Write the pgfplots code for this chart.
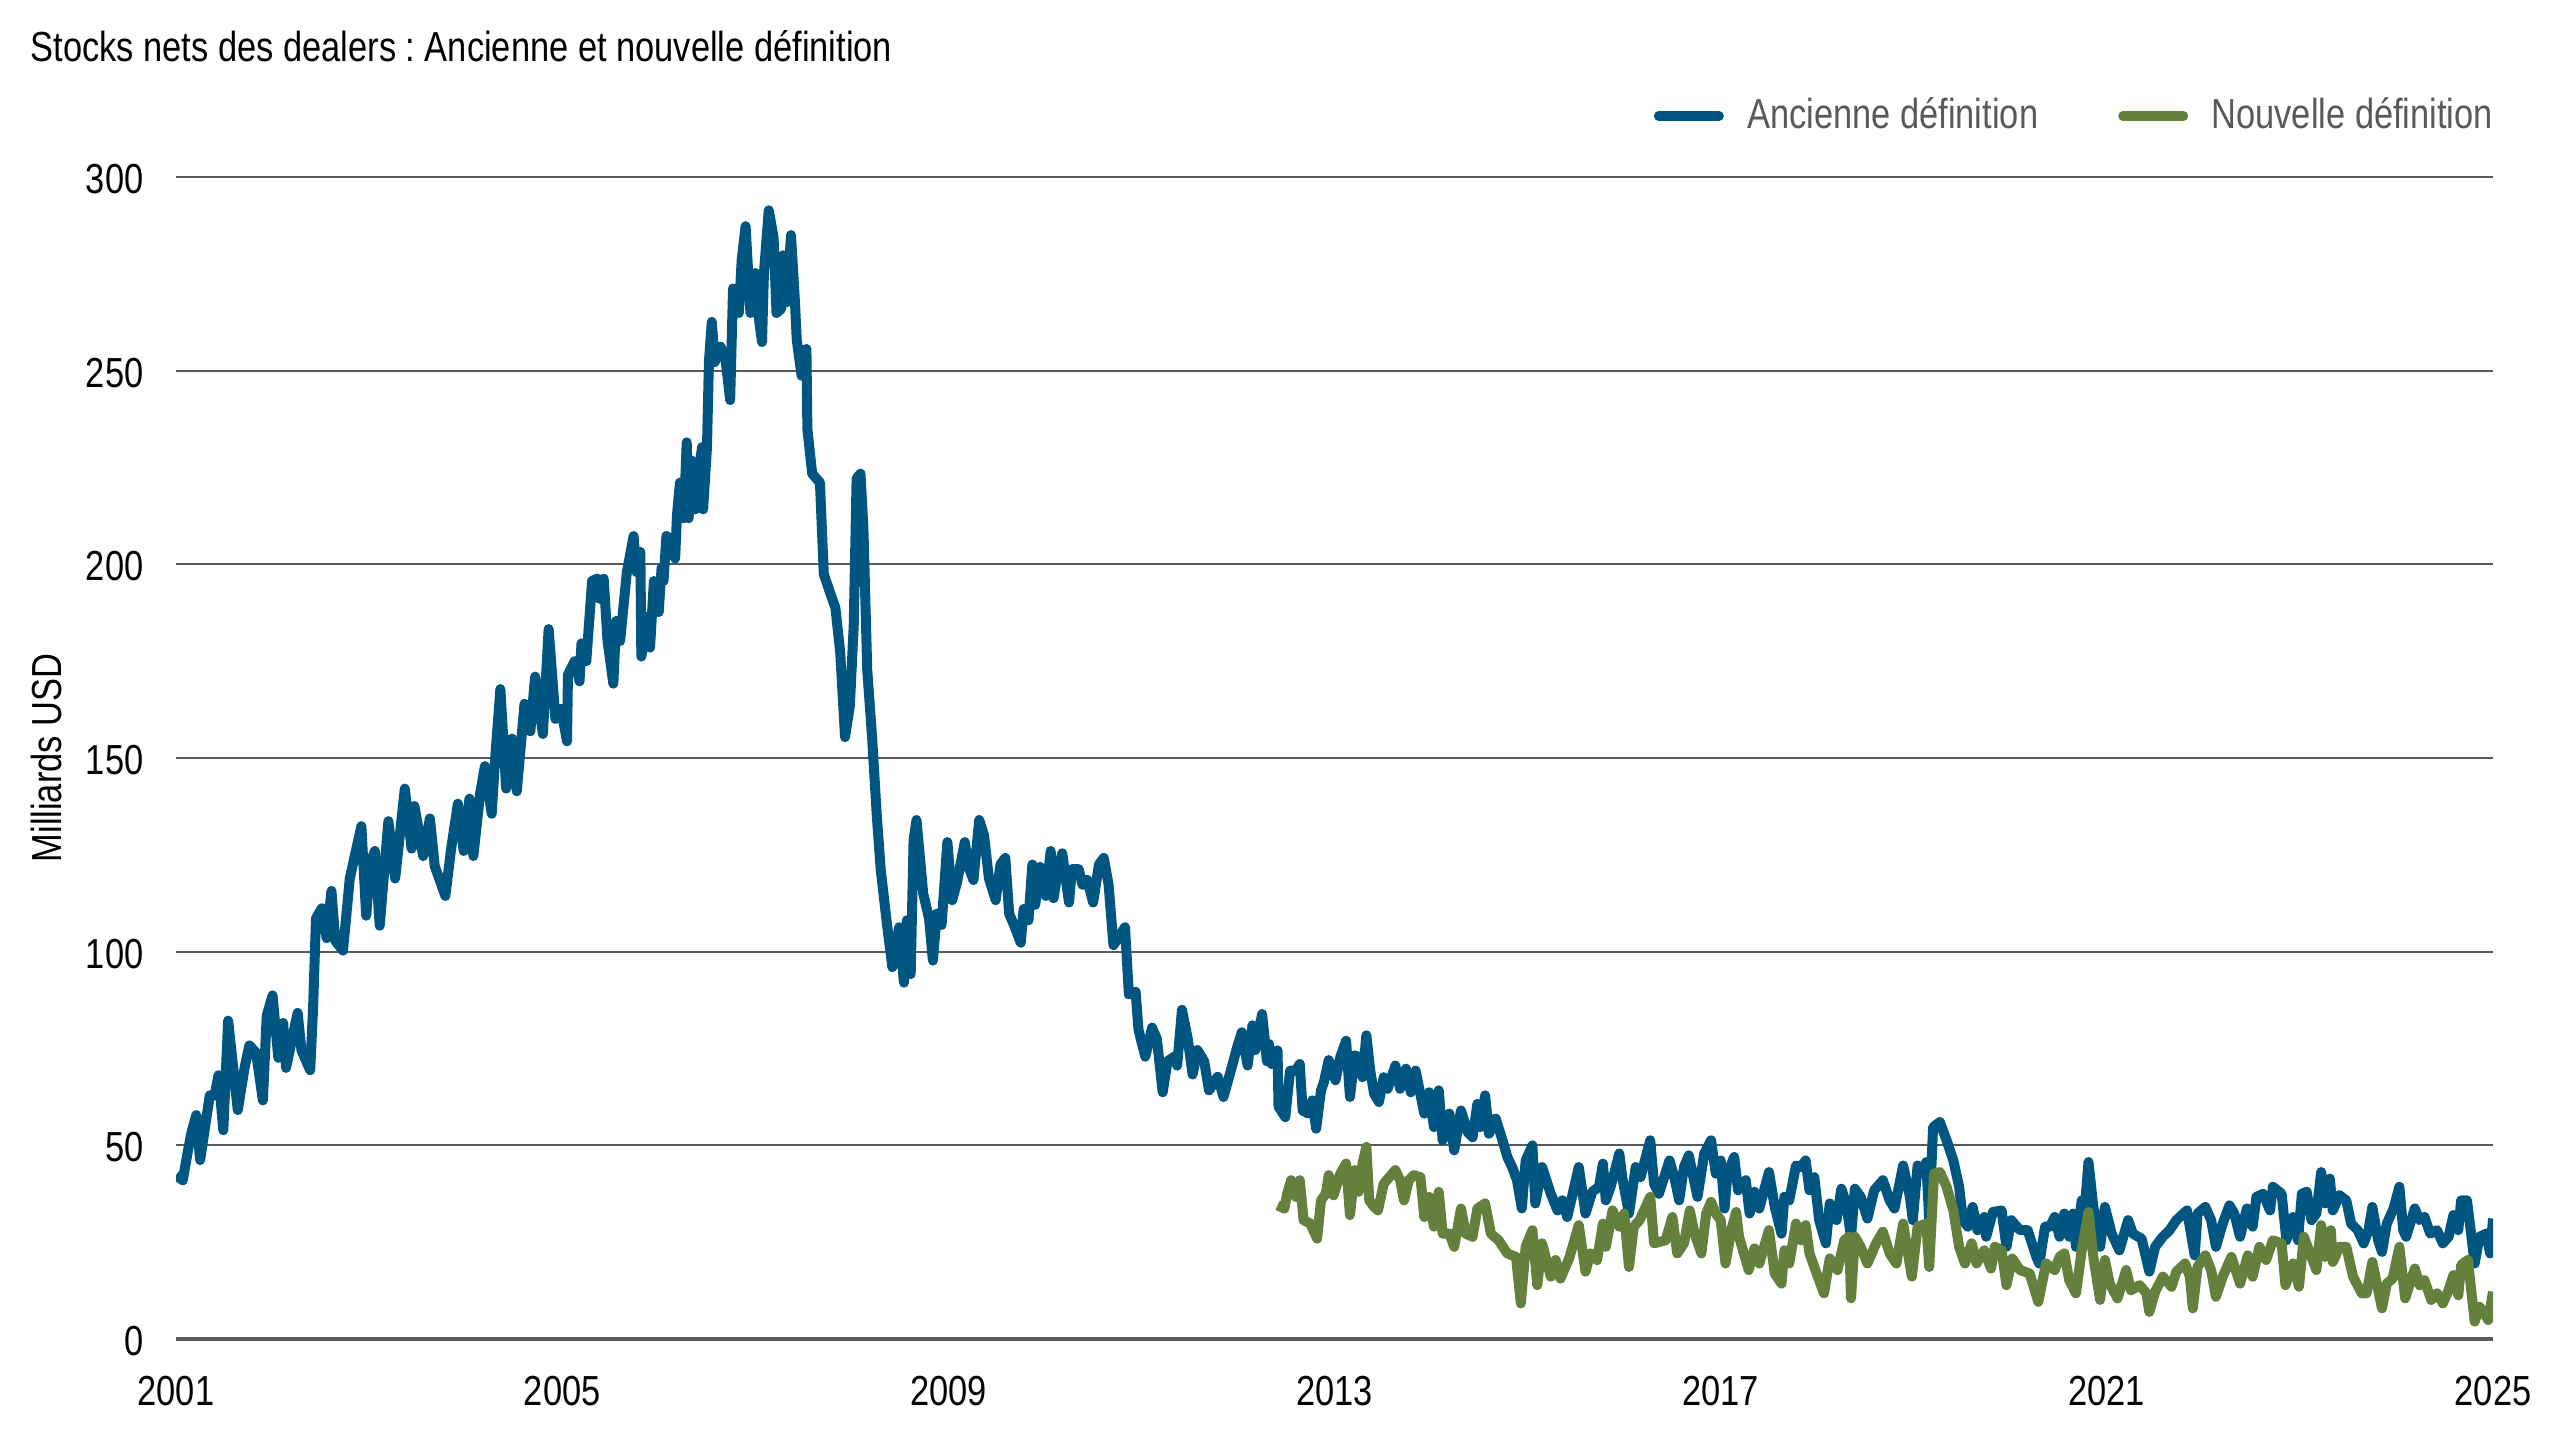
\documentclass[border=0pt]{standalone}
\usepackage{pgfplots}
\pgfplotsset{compat=1.18}
\usepackage{fontspec}
\setmainfont[FakeStretch=0.82]{Liberation Sans}
\frenchspacing
\definecolor{oldblue}{RGB}{0,86,128}
\definecolor{newgreen}{RGB}{99,128,61}
\definecolor{gridgray}{RGB}{88,89,91}
\begin{document}
\begin{tikzpicture}
\path[use as bounding box] (0pt,0pt) rectangle (768pt,432pt);
\node[anchor=west, inner sep=0pt, font=\fontsize{12.6}{15}\selectfont] at (9pt,418.2pt) {Stocks nets des dealers : Ancienne et nouvelle définition};
\node[rotate=90, inner sep=0pt, font=\fontsize{12.6}{15}\selectfont] at (13.8pt,204.6pt) {Milliards USD};
\begin{axis}[
  at={(52.8pt,30.3pt)}, anchor=south west,
  scale only axis, width=695.1pt, height=348.6pt,
  xmin=2001, xmax=2025, ymin=0, ymax=300,
  xtick={2001,2005,2009,2013,2017,2021,2025},
  ytick={0,50,100,150,200,250,300},
  axis lines=left,
  axis line style={-},
  y axis line style={draw=none},
  x axis line style={line width=1.2pt, color=gridgray},
  tick style={draw=none},
  major tick length=0pt,
  ymajorgrids,
  grid style={line width=0.6pt, color=gridgray},
  /pgf/number format/assume math mode=true,
  /pgf/number format/1000 sep={},
  ticklabel style={font=\fontsize{12.6}{15}\selectfont},
  xticklabel style={anchor=north, inner sep=0pt, yshift=-10.8pt},
  yticklabel style={anchor=east, inner sep=0pt, xshift=-9.6pt, yshift=-0.6pt},
  legend columns=2,
  legend style={at={(1,1)}, anchor=east, yshift=18.3pt, draw=none, fill=none,
    inner sep=0pt, outer sep=0pt,
    font=\fontsize{12.6}{15}\selectfont, text=gridgray,
    nodes={inner sep=0pt},
    /tikz/every odd column/.append style={column sep=7pt},
    /tikz/every even column/.append style={column sep=24pt}},
  legend image code/.code={\draw[line width=2.8pt, line cap=round] (1.4pt,0pt) -- (19.6pt,0pt);},
]
\addplot[oldblue, line width=3pt, line join=round] coordinates {
(2001.00,42.3)(2001.07,41.0)(2001.12,48.1)(2001.16,53.3)(2001.21,57.8)(2001.25,46.2)
(2001.30,54.6)(2001.35,62.9)(2001.40,62.9)(2001.44,68.1)(2001.49,53.9)(2001.54,82.2)
(2001.64,59.1)(2001.71,70.0)(2001.76,75.8)(2001.83,73.9)(2001.90,61.6)(2001.94,83.5)
(2002.00,88.7)(2002.06,72.6)(2002.11,81.6)(2002.14,70.0)(2002.26,84.2)(2002.30,74.5)
(2002.39,69.4)(2002.42,85.5)(2002.45,108.6)(2002.51,111.2)(2002.56,103.5)(2002.61,115.7)
(2002.65,102.8)(2002.73,100.3)(2002.80,118.9)(2002.92,132.4)(2002.97,109.3)(2003.01,122.8)
(2003.06,126.0)(2003.11,106.7)(2003.20,133.7)(2003.27,118.9)(2003.37,142.1)(2003.44,126.6)
(2003.47,137.6)(2003.56,124.7)(2003.63,134.4)(2003.68,122.1)(2003.79,114.4)(2003.85,126.6)
(2003.92,138.2)(2003.98,126.0)(2004.04,139.5)(2004.08,124.7)(2004.15,140.8)(2004.20,147.9)
(2004.27,135.6)(2004.30,147.9)(2004.36,167.8)(2004.42,142.1)(2004.48,155.0)(2004.53,141.4)
(2004.61,164.0)(2004.67,156.9)(2004.72,171.0)(2004.80,156.2)(2004.86,183.3)(2004.93,160.1)
(2004.99,162.7)(2005.05,154.3)(2005.06,171.5)(2005.13,175.0)(2005.18,169.8)(2005.20,179.6)
(2005.25,175.0)(2005.31,195.7)(2005.36,196.3)(2005.39,191.1)(2005.43,196.3)(2005.47,180.2)
(2005.53,169.2)(2005.56,185.4)(2005.60,180.2)(2005.67,198.0)(2005.74,207.3)(2005.77,198.0)
(2005.81,203.2)(2005.82,176.2)(2005.88,186.5)(2005.91,178.5)(2005.95,195.7)(2006.00,187.7)
(2006.03,199.2)(2006.05,195.7)(2006.08,207.3)(2006.14,206.1)(2006.17,201.5)(2006.19,213.0)
(2006.22,221.1)(2006.26,211.9)(2006.29,231.5)(2006.31,211.9)(2006.34,226.8)(2006.38,214.2)
(2006.41,223.4)(2006.45,230.3)(2006.46,214.2)(2006.50,230.3)(2006.52,252.2)(2006.55,262.6)
(2006.58,252.2)(2006.64,256.2)(2006.69,253.3)(2006.74,242.4)(2006.77,271.2)(2006.83,264.9)
(2006.86,278.7)(2006.90,287.3)(2006.95,264.9)(2007.00,275.2)(2007.03,264.9)(2007.07,257.4)
(2007.09,275.2)(2007.14,291.4)(2007.19,284.4)(2007.22,264.9)(2007.27,266.0)(2007.29,279.8)
(2007.33,267.7)(2007.37,285.0)(2007.41,268.3)(2007.43,257.9)(2007.48,248.7)(2007.53,255.6)
(2007.54,234.9)(2007.59,223.4)(2007.67,221.1)(2007.71,197.5)(2007.78,192.3)(2007.83,188.8)
(2007.88,177.3)(2007.93,155.4)(2007.98,163.5)(2008.02,184.2)(2008.05,222.2)(2008.09,223.4)
(2008.12,209.6)(2008.16,172.7)(2008.21,155.4)(2008.26,134.7)(2008.30,121.1)(2008.36,108.0)
(2008.42,96.0)(2008.49,106.3)(2008.54,92.0)(2008.57,108.1)(2008.61,94.2)(2008.64,128.8)
(2008.67,134.0)(2008.74,115.0)(2008.80,108.6)(2008.84,97.7)(2008.88,109.8)(2008.93,106.9)
(2008.99,128.3)(2009.04,113.3)(2009.09,117.9)(2009.17,128.3)(2009.21,121.9)(2009.26,118.5)
(2009.32,134.0)(2009.37,130.0)(2009.42,119.0)(2009.49,113.3)(2009.54,122.5)(2009.59,124.2)
(2009.63,109.8)(2009.68,106.9)(2009.75,102.3)(2009.78,111.0)(2009.83,108.1)(2009.87,122.5)
(2009.90,112.1)(2009.95,121.9)(2010.01,114.4)(2010.06,126.0)(2010.09,113.8)(2010.13,120.2)
(2010.18,125.4)(2010.25,112.7)(2010.28,121.3)(2010.35,121.3)(2010.39,117.3)(2010.44,118.5)
(2010.50,112.7)(2010.56,122.5)(2010.61,124.2)(2010.66,117.3)(2010.71,101.7)(2010.77,104.0)
(2010.83,106.3)(2010.87,89.0)(2010.94,89.6)(2010.97,79.8)(2011.04,72.9)(2011.11,80.4)
(2011.16,77.5)(2011.22,63.7)(2011.27,71.7)(2011.34,72.9)(2011.37,70.6)(2011.42,85.0)
(2011.48,77.5)(2011.53,68.3)(2011.58,74.6)(2011.65,71.7)(2011.70,64.2)(2011.79,67.7)
(2011.85,62.5)(2011.94,70.6)(2011.99,75.2)(2012.04,79.2)(2012.10,70.6)(2012.15,81.0)
(2012.18,74.6)(2012.25,83.9)(2012.30,71.7)(2012.32,76.2)(2012.35,71.0)(2012.41,74.5)
(2012.42,60.0)(2012.49,57.3)(2012.54,69.3)(2012.60,69.3)(2012.64,71.0)(2012.67,59.0)
(2012.73,58.2)(2012.77,61.6)(2012.81,54.3)(2012.86,64.2)(2012.89,66.3)(2012.94,72.0)
(2013.01,66.8)(2013.06,72.8)(2013.12,77.0)(2013.16,62.5)(2013.21,73.2)(2013.25,72.8)
(2013.29,67.6)(2013.33,78.4)(2013.37,69.3)(2013.41,63.3)(2013.46,61.2)(2013.51,67.6)
(2013.55,64.6)(2013.63,70.6)(2013.68,64.6)(2013.74,69.8)(2013.79,63.7)(2013.84,69.3)
(2013.93,58.2)(2013.98,63.7)(2014.03,54.7)(2014.08,64.2)(2014.12,51.3)(2014.19,58.2)
(2014.24,48.7)(2014.31,59.0)(2014.38,53.4)(2014.43,52.1)(2014.48,60.7)(2014.51,54.7)
(2014.56,62.9)(2014.60,53.0)(2014.67,56.9)(2014.74,51.3)(2014.79,47.0)(2014.84,44.4)
(2014.89,41.0)(2014.94,33.7)(2014.98,46.1)(2015.05,50.0)(2015.08,35.0)(2015.15,44.4)
(2015.24,37.5)(2015.31,33.2)(2015.36,35.8)(2015.41,31.5)(2015.46,36.7)(2015.53,44.4)
(2015.60,32.4)(2015.67,38.0)(2015.74,39.3)(2015.78,45.3)(2015.81,35.8)(2015.86,39.3)
(2015.95,47.9)(2015.98,41.8)(2016.05,32.4)(2016.12,44.4)(2016.17,41.8)(2016.27,51.3)
(2016.31,40.1)(2016.36,37.5)(2016.47,46.1)(2016.52,41.8)(2016.57,35.8)(2016.62,44.4)
(2016.67,47.4)(2016.76,36.7)(2016.83,47.9)(2016.90,51.3)(2016.95,42.7)(2017.00,46.1)
(2017.04,33.7)(2017.07,42.7)(2017.14,47.0)(2017.18,38.4)(2017.26,41.0)(2017.30,32.4)
(2017.35,38.0)(2017.40,33.7)(2017.50,43.1)(2017.56,34.1)(2017.63,27.2)(2017.66,36.7)
(2017.71,35.8)(2017.78,44.8)(2017.83,44.4)(2017.88,46.1)(2017.92,38.4)(2017.97,41.8)
(2018.02,30.7)(2018.09,24.7)(2018.13,35.0)(2018.20,30.7)(2018.25,38.8)(2018.30,35.0)
(2018.35,26.4)(2018.39,38.8)(2018.45,36.7)(2018.52,31.1)(2018.59,38.4)(2018.68,41.0)
(2018.75,35.8)(2018.80,33.7)(2018.89,44.8)(2018.96,36.7)(2018.99,30.7)(2019.04,44.8)
(2019.09,42.7)(2019.13,45.7)(2019.16,30.7)(2019.20,54.7)(2019.27,56.0)(2019.34,51.3)
(2019.41,46.1)(2019.47,39.3)(2019.51,30.7)(2019.56,29.0)(2019.61,34.1)(2019.66,28.1)
(2019.73,31.5)(2019.75,26.4)(2019.82,32.8)(2019.91,33.2)(2019.96,23.8)(2020.01,30.7)
(2020.10,28.1)(2020.18,28.1)(2020.27,21.2)(2020.30,19.5)(2020.36,29.0)(2020.41,29.0)
(2020.46,31.5)(2020.51,26.4)(2020.56,32.4)(2020.61,26.4)(2020.65,32.4)(2020.68,23.8)
(2020.74,35.8)(2020.77,33.2)(2020.81,45.7)(2020.86,34.1)(2020.93,23.8)(2020.98,34.1)
(2021.05,27.2)(2021.13,22.9)(2021.22,30.7)(2021.27,27.2)(2021.36,25.9)(2021.44,17.4)
(2021.50,23.8)(2021.58,26.4)(2021.65,28.1)(2021.72,30.7)(2021.83,33.2)(2021.91,21.6)
(2021.94,32.4)(2022.02,34.1)(2022.08,30.7)(2022.13,23.8)(2022.20,29.8)(2022.27,34.5)
(2022.32,32.4)(2022.38,26.4)(2022.45,33.7)(2022.51,29.0)(2022.55,36.7)(2022.62,37.5)
(2022.69,33.2)(2022.72,39.3)(2022.81,37.5)(2022.86,25.5)(2022.93,31.5)(2022.98,25.5)
(2023.02,37.5)(2023.07,38.0)(2023.12,30.7)(2023.17,32.4)(2023.22,43.1)(2023.26,35.0)
(2023.31,41.4)(2023.34,33.2)(2023.41,37.1)(2023.48,35.8)(2023.53,29.8)(2023.60,28.1)
(2023.66,24.7)(2023.71,28.1)(2023.75,34.1)(2023.81,25.5)(2023.85,22.5)(2023.90,29.8)
(2023.97,33.7)(2024.03,39.3)(2024.07,28.1)(2024.10,26.4)(2024.19,33.7)(2024.24,30.7)
(2024.29,31.5)(2024.35,27.2)(2024.42,28.1)(2024.48,24.7)(2024.54,26.4)(2024.59,32.0)
(2024.64,28.1)(2024.67,35.8)(2024.73,35.8)(2024.76,29.8)(2024.81,19.5)(2024.86,26.4)
(2024.93,27.2)(2024.97,22.1)(2025.00,31.1)
};
\addlegendentry{Ancienne définition}
\addplot[newgreen, line width=3pt, line join=round] coordinates {
(2012.41,34.5)(2012.48,33.7)(2012.51,37.5)(2012.55,41.0)(2012.60,36.7)(2012.64,41.0)
(2012.68,30.7)(2012.75,29.8)(2012.82,25.9)(2012.86,35.8)(2012.91,37.5)(2012.94,42.3)
(2012.99,37.1)(2013.06,42.7)(2013.12,45.3)(2013.16,32.0)(2013.21,43.6)(2013.25,38.0)
(2013.29,45.3)(2013.33,49.6)(2013.36,35.8)(2013.41,34.1)(2013.45,33.2)(2013.51,40.1)
(2013.63,43.6)(2013.68,41.0)(2013.72,35.8)(2013.77,41.0)(2013.82,42.3)(2013.89,41.8)
(2013.93,31.5)(2013.98,36.7)(2014.03,29.0)(2014.08,38.0)(2014.12,27.2)(2014.19,27.2)
(2014.24,23.8)(2014.31,33.7)(2014.36,27.2)(2014.43,26.4)(2014.48,33.7)(2014.56,35.0)
(2014.62,27.2)(2014.70,25.5)(2014.79,22.1)(2014.88,21.2)(2014.93,9.2)(2014.98,23.8)
(2015.05,28.1)(2015.10,13.9)(2015.15,24.7)(2015.24,16.1)(2015.29,20.4)(2015.34,15.6)
(2015.43,20.8)(2015.53,29.4)(2015.60,17.4)(2015.65,22.1)(2015.72,20.4)(2015.78,29.8)
(2015.81,23.8)(2015.88,33.2)(2015.95,29.0)(2016.00,32.4)(2016.05,18.6)(2016.10,29.0)
(2016.16,30.7)(2016.27,36.7)(2016.31,24.7)(2016.43,25.5)(2016.50,31.5)(2016.55,22.1)
(2016.62,24.7)(2016.68,33.2)(2016.73,27.2)(2016.80,22.1)(2016.85,32.4)(2016.90,35.4)
(2016.95,32.4)(2017.00,30.7)(2017.05,19.5)(2017.11,28.1)(2017.16,32.8)(2017.19,26.4)
(2017.29,17.8)(2017.35,23.4)(2017.40,19.5)(2017.50,28.1)(2017.56,16.9)(2017.63,14.3)
(2017.66,22.9)(2017.71,19.5)(2017.78,29.8)(2017.83,25.5)(2017.88,29.4)(2017.92,22.1)
(2018.00,16.5)(2018.07,11.8)(2018.13,20.8)(2018.21,17.8)(2018.28,25.5)(2018.33,26.4)
(2018.35,10.5)(2018.39,26.4)(2018.45,23.8)(2018.52,19.5)(2018.61,24.7)(2018.68,27.7)
(2018.75,22.1)(2018.82,19.5)(2018.89,29.8)(2018.98,16.1)(2019.04,29.0)(2019.13,29.8)
(2019.16,18.6)(2019.21,42.7)(2019.27,43.1)(2019.34,39.3)(2019.41,33.2)(2019.47,23.8)
(2019.53,19.5)(2019.60,24.7)(2019.65,19.5)(2019.73,22.9)(2019.80,18.2)(2019.84,23.8)
(2019.91,22.9)(2019.96,13.9)(2020.02,20.8)(2020.10,17.8)(2020.20,16.9)(2020.29,9.6)
(2020.37,19.5)(2020.46,17.8)(2020.51,21.2)(2020.56,22.1)(2020.61,15.2)(2020.68,11.8)
(2020.74,22.9)(2020.81,32.8)(2020.86,21.2)(2020.93,10.1)(2020.98,20.4)(2021.03,14.3)
(2021.11,10.5)(2021.20,17.8)(2021.25,12.6)(2021.34,13.9)(2021.41,11.8)(2021.44,7.0)
(2021.50,12.2)(2021.58,16.1)(2021.67,13.5)(2021.72,17.4)(2021.81,19.5)(2021.86,16.1)
(2021.89,7.9)(2021.94,18.6)(2022.02,21.6)(2022.08,17.8)(2022.13,10.9)(2022.20,16.1)
(2022.29,21.2)(2022.38,14.3)(2022.46,21.6)(2022.51,16.1)(2022.58,23.8)(2022.65,20.4)
(2022.72,25.5)(2022.81,24.7)(2022.85,13.9)(2022.93,19.5)(2022.99,13.5)(2023.04,26.4)
(2023.08,23.8)(2023.17,17.8)(2023.22,29.4)(2023.26,21.2)(2023.32,28.1)(2023.34,19.9)
(2023.41,23.8)(2023.48,23.8)(2023.55,16.1)(2023.64,11.8)(2023.69,11.8)(2023.75,19.9)
(2023.85,7.9)(2023.90,14.3)(2023.96,15.6)(2024.03,23.8)(2024.09,10.5)(2024.19,18.2)
(2024.24,13.9)(2024.29,15.2)(2024.36,10.1)(2024.42,11.8)(2024.48,9.2)(2024.54,12.6)
(2024.59,16.5)(2024.64,11.3)(2024.67,19.1)(2024.74,20.4)(2024.81,4.5)(2024.86,8.3)
(2024.91,6.6)(2024.95,4.9)(2025.00,12.2)
};
\addlegendentry{Nouvelle définition}
\end{axis}
\end{tikzpicture}
\end{document}
